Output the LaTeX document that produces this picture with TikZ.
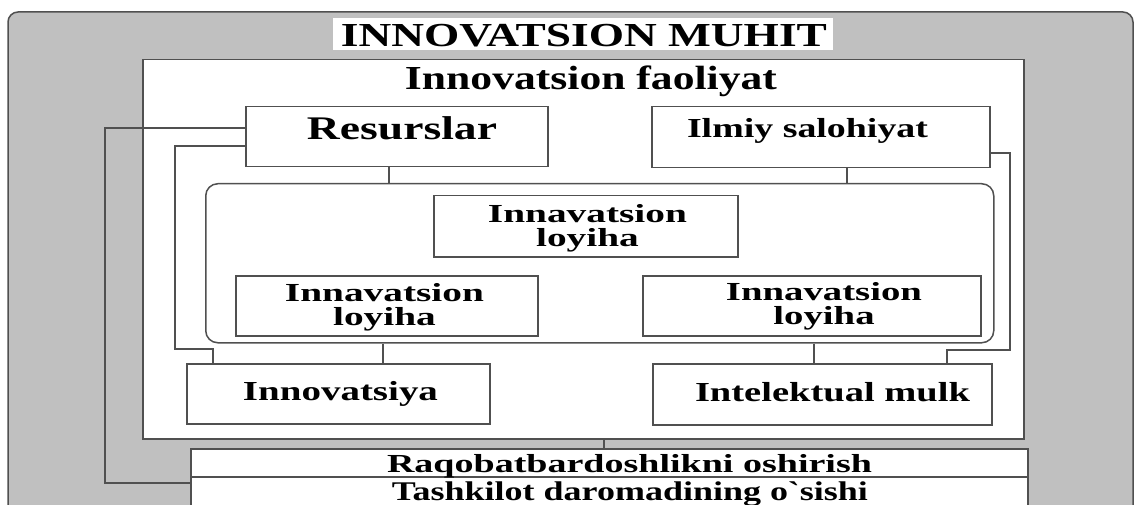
\documentclass[tikz,border=0pt]{standalone}
\usepackage{fontspec}
\usepackage{graphicx}
\setmainfont{Liberation Serif}
\definecolor{ln}{RGB}{80,80,80}
\definecolor{bg}{RGB}{192,192,192}
\newcommand\stxt[3]{\resizebox{#2pt}{\height}{\fontsize{#1}{#1}\selectfont\bfseries #3}}
\newcommand\mtxt[3]{\resizebox{#2pt}{\height}{\fontsize{#1}{21}\selectfont\bfseries\begin{tabular}{@{}c@{}}#3\end{tabular}}}
\tikzset{
  ln/.style={draw=ln, line width=1.5pt},
  boxnode/.style={ln, fill=white, rectangle, inner sep=0pt, anchor=north west},
  lbl/.style={inner sep=0pt, anchor=base, text=black},
  mlbl/.style={inner sep=0pt, anchor=center, text=black},
}
\begin{document}
\begin{tikzpicture}[x=1pt,y=-1pt]
\useasboundingbox (0,0) rectangle (1135,505);
\clip (0,0) rectangle (1135,505);
\fill[white] (0,0) rectangle (1135,505);
% outer environment
\draw[ln, fill=bg, rounded corners=10pt] (8,12) rectangle (1133,540);
\node[fill=white, inner sep=0pt, minimum width=500pt, minimum height=32pt, anchor=north west] (titlebox) at (333,18) {};
\node[lbl] (title) at (584,47) {\stxt{33.6}{486}{INNOVATSION MUHIT}};
% activity frame
\node[boxnode, minimum width=881pt, minimum height=379pt] (act) at (142,59) {};
\node[lbl] (acttxt) at (591,90) {\stxt{33.6}{372}{Innovatsion faoliyat}};
% top boxes
\node[boxnode, minimum width=302pt, minimum height=60pt] (res) at (245,106) {};
\node[lbl] (restxt) at (402,140) {\stxt{33}{190}{Resurslar}};
\node[boxnode, minimum width=338pt, minimum height=61pt] (ilm) at (651,106) {};
\node[lbl] (ilmtxt) at (807.5,138) {\stxt{27.5}{241}{Ilmiy salohiyat}};
% project container
\node[boxnode, rounded corners=12pt, minimum width=788pt, minimum height=159pt] (cont) at (205,183) {};
\node[boxnode, minimum width=304pt, minimum height=61pt] (p1) at (433,195) {};
\node[mlbl] (p1txt) at (587.5,228.3) {\mtxt{26}{199}{Innavatsion\\loyiha}};
\node[boxnode, minimum width=302pt, minimum height=60pt] (p2) at (235,275) {};
\node[mlbl] (p2txt) at (384.5,307.3) {\mtxt{26}{199}{Innavatsion\\loyiha}};
\node[boxnode, minimum width=338pt, minimum height=60pt] (p3) at (642,275) {};
\node[mlbl] (p3txt) at (824,306.3) {\mtxt{26}{196}{Innavatsion\\loyiha}};
% results
\node[boxnode, minimum width=303pt, minimum height=60pt] (inn) at (186,363) {};
\node[lbl] (inntxt) at (340.5,400) {\stxt{27.5}{195}{Innovatsiya}};
\node[boxnode, minimum width=339pt, minimum height=61pt] (intel) at (652,363) {};
\node[lbl] (inteltxt) at (832.5,401) {\stxt{27.5}{275}{Intelektual mulk}};
% bottom boxes
\node[boxnode, minimum width=837pt, minimum height=28pt] (b1) at (190,448) {};
\node[boxnode, minimum width=837pt, minimum height=70pt] (b2) at (190,476) {};
\node[lbl] (b1txt) at (629.5,472) {\stxt{26}{485}{Raqobatbardoshlikni oshirish}};
\node[lbl] (b2txt) at (630,500) {\stxt{27}{476}{Tashkilot daromadining o\textasciigrave sishi}};
% connectors
\draw[ln] (res.south -| 389,0) -- (cont.north -| 389,0);
\draw[ln] (ilm.south -| 847,0) -- (cont.north -| 847,0);
\draw[ln] (cont.south -| 383,0) -- (inn.north -| 383,0);
\draw[ln] (cont.south -| 814,0) -- (intel.north -| 814,0);
\draw[ln] (act.south -| 604,0) -- (b1.north -| 604,0);
\draw[ln] (res.west |- 0,128) -| (105,483) -- (b2.west |- 0,483);
\draw[ln] (res.west |- 0,146) -| (175,349) -| (inn.north -| 213,0);
\draw[ln] (ilm.east |- 0,153) -| (1010,350) -| (intel.north -| 947,0);
\end{tikzpicture}
\end{document}
